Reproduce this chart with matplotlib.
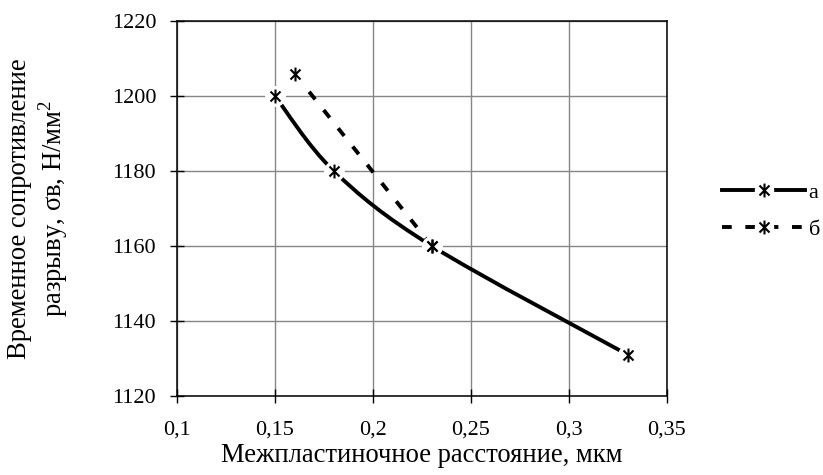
import numpy as np
import matplotlib.pyplot as plt
from matplotlib.path import Path
from matplotlib.patches import PathPatch
from matplotlib.lines import Line2D
from matplotlib.legend_handler import HandlerTuple

plt.rcParams["font.family"] = ["Liberation Serif", "DejaVu Serif"]
plt.rcParams["mathtext.fontset"] = "custom"
plt.rcParams["mathtext.rm"] = "Liberation Serif"

# data
x_a = [0.15, 0.18, 0.23, 0.33]
y_a = [1200, 1180, 1160, 1131]
x_b = [0.16, 0.23]
y_b = [1206, 1160]

x_ticks = [0.1, 0.15, 0.2, 0.25, 0.3, 0.35]
x_ticklabels = ["0,1", "0,15", "0,2", "0,25", "0,3", "0,35"]
y_ticks = [1120, 1140, 1160, 1180, 1200, 1220]

TICK_FS = 16
LABEL_FS = 19.2
LW = 2.8
DASH = (0, (2.5, 3.5))

# asterisk marker: vertical stroke plus an X
d = 0.72
STAR = Path([(0, -1), (0, 1), (-d, -d), (d, d), (-d, d), (d, -d)],
            [Path.MOVETO, Path.LINETO] * 3)


def smooth_path(xs, ys):
    # Excel-like smoothed line: cubic Bezier segments through the points
    pts = np.column_stack([xs, ys]).astype(float)
    n = len(pts)
    verts = [pts[0]]
    codes = [Path.MOVETO]
    for i in range(n - 1):
        p_prev = pts[max(i - 1, 0)]
        p0, p1 = pts[i], pts[i + 1]
        p_next = pts[min(i + 2, n - 1)]
        c1 = p0 + (p1 - p_prev) / 6
        c2 = p1 - (p_next - p0) / 6
        verts += [c1, c2, p1]
        codes += [Path.CURVE4] * 3
    return Path(verts, codes)


fig = plt.figure(figsize=(8.23, 4.75), dpi=100)
ax = fig.add_axes([177 / 823, 1 - 396 / 475, 490 / 823, 375 / 475])

ax.add_patch(PathPatch(smooth_path(x_a, y_a), fill=False, edgecolor="black",
                       linewidth=LW, capstyle="butt", zorder=3))
ax.plot(x_b, y_b, color="black", linewidth=LW, linestyle=DASH, zorder=3)

for xs, ys in [(x_a, y_a), (x_b, y_b)]:
    ax.plot(xs, ys, linestyle="none", marker="o", markersize=15,
            markerfacecolor="white", markeredgecolor="none", zorder=4)
    ax.plot(xs, ys, linestyle="none", marker=STAR, markersize=10,
            markeredgecolor="black", markeredgewidth=1.5, zorder=5)

ax.set_xlim(0.1, 0.35)
ax.set_ylim(1120, 1220)
ax.set_xticks(x_ticks)
ax.set_xticklabels(x_ticklabels)
ax.set_yticks(y_ticks)
ax.tick_params(direction="inout", length=10, width=1, labelsize=TICK_FS)
ax.tick_params(axis="y", pad=10)
ax.tick_params(axis="x", pad=13)
ax.grid(True, color="#868686", linewidth=1)
ax.set_axisbelow(True)
for s in ax.spines.values():
    s.set_linewidth(1.1)
    s.set_color("black")

ax.set_xlabel("Межпластиночное расстояние, мкм", fontsize=LABEL_FS, labelpad=2)
ax.set_ylabel("Временное сопротивление\nразрыву, σв, Н/мм$^2$", fontsize=LABEL_FS,
              labelpad=30, linespacing=1.15)


# legend
def handles(ls):
    line = Line2D([], [], color="black", linewidth=LW, linestyle=ls)
    bg = Line2D([], [], linestyle="none", marker="o", markersize=14,
                markerfacecolor="white", markeredgecolor="none")
    mk = Line2D([], [], linestyle="none", marker=STAR, markersize=10,
                markeredgecolor="black", markeredgewidth=1.5)
    return (line, bg, mk)


fig.legend([handles("-"), handles(DASH)], ["а", "б"],
           handler_map={tuple: HandlerTuple(ndivide=1)},
           loc="center left", bbox_to_anchor=(722 / 823, 1 - 211 / 475),
           frameon=False, fontsize=TICK_FS, borderpad=0, borderaxespad=0,
           handlelength=3.75, handletextpad=0.15, labelspacing=0.75)

fig.savefig("out.png", dpi=100)
